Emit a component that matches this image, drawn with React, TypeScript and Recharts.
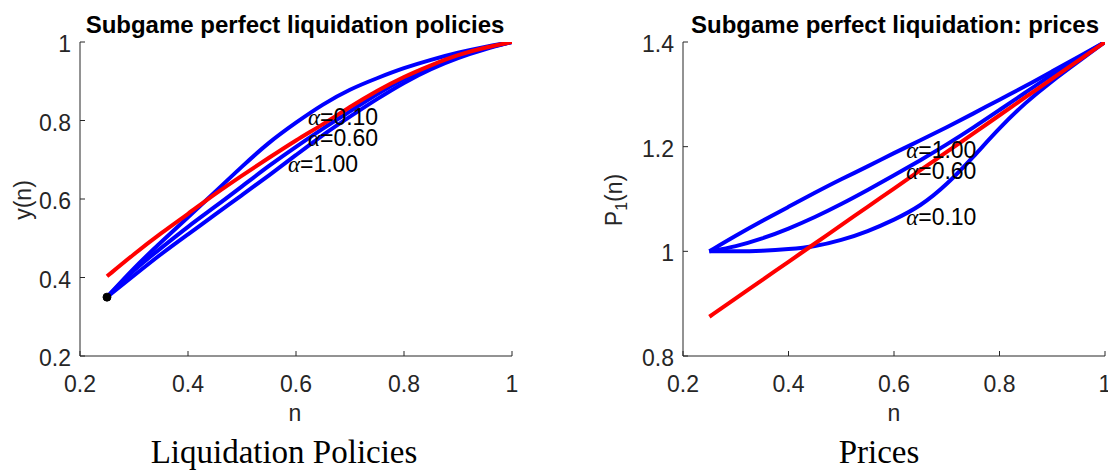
import React from 'react';
import { LineChart, Line, XAxis, YAxis, ReferenceDot } from 'recharts';

// grid of n values
const N_VALUES = [0.25, 0.3, 0.35, 0.4, 0.45, 0.5, 0.55, 0.6, 0.65, 0.7, 0.75, 0.8, 0.85, 0.9, 0.95, 1];

// left panel: liquidation policies y(n)
const Y_ALPHA_010 = [0.35, 0.425, 0.49, 0.553, 0.618, 0.683, 0.745, 0.795, 0.842, 0.88, 0.908, 0.934, 0.955, 0.973, 0.988, 1];
const Y_ALPHA_060 = [0.35, 0.42, 0.475, 0.53, 0.58, 0.632, 0.685, 0.733, 0.78, 0.823, 0.868, 0.907, 0.94, 0.965, 0.985, 1];
const Y_ALPHA_100 = [0.35, 0.405, 0.46, 0.51, 0.56, 0.61, 0.66, 0.712, 0.764, 0.81, 0.855, 0.897, 0.932, 0.96, 0.982, 1];
const Y_RED = [0.403, 0.46, 0.513, 0.562, 0.613, 0.66, 0.705, 0.75, 0.79, 0.835, 0.876, 0.912, 0.941, 0.968, 0.986, 1];

// right panel: prices P1(n)
const P_ALPHA_100 = [1.0, 1.03, 1.058, 1.085, 1.112, 1.138, 1.162, 1.188, 1.212, 1.237, 1.263, 1.29, 1.316, 1.344, 1.372, 1.4];
const P_ALPHA_060 = [1.0, 1.009, 1.024, 1.043, 1.065, 1.09, 1.117, 1.145, 1.174, 1.204, 1.236, 1.27, 1.304, 1.338, 1.37, 1.4];
const P_ALPHA_010 = [1.0, 1.0, 1.001, 1.004, 1.009, 1.021, 1.038, 1.06, 1.086, 1.127, 1.18, 1.236, 1.285, 1.326, 1.363, 1.4];
const P_RED = [0.875, 0.91, 0.945, 0.98, 1.015, 1.05, 1.085, 1.12, 1.155, 1.19, 1.225, 1.26, 1.295, 1.33, 1.365, 1.4];

const X_TICKS = [0.2, 0.4, 0.6, 0.8, 1];
const Y_TICKS_LEFT = [0.2, 0.4, 0.6, 0.8, 1];
const Y_TICKS_RIGHT = [0.8, 1, 1.2, 1.4];

const LEFT_LABELS = [
  { n: 0.622, v: 0.808, text: '=0.10' },
  { n: 0.622, v: 0.755, text: '=0.60' },
  { n: 0.585, v: 0.689, text: '=1.00' },
];
const RIGHT_LABELS = [
  { n: 0.623, v: 1.194, text: '=1.00' },
  { n: 0.623, v: 1.154, text: '=0.60' },
  { n: 0.623, v: 1.066, text: '=0.10' },
];

const leftData = N_VALUES.map((n, i) => ({
  n, a010: Y_ALPHA_010[i], a060: Y_ALPHA_060[i], a100: Y_ALPHA_100[i], red: Y_RED[i],
}));
const rightData = N_VALUES.map((n, i) => ({
  n, a100: P_ALPHA_100[i], a060: P_ALPHA_060[i], a010: P_ALPHA_010[i], red: P_RED[i],
}));

const AXIS = '#262626';
const SANS = '"Liberation Sans", Arial, sans-serif';
const SERIF = '"Liberation Serif", "Times New Roman", serif';
const TICK_FONT = 23;

const fmt = (v: number) => (Math.abs(v - Math.round(v)) < 1e-9 ? String(Math.round(v)) : v.toFixed(1));

const XTick = (props: any) => {
  const { x, y, payload } = props;
  return (
    <g>
      <line x1={x} y1={y} x2={x} y2={y - 5} stroke={AXIS} strokeWidth={1} />
      <text x={x} y={y + 28} textAnchor="middle" dominantBaseline="central" fontSize={TICK_FONT} fontFamily={SANS} fill={AXIS}>
        {fmt(payload.value)}
      </text>
    </g>
  );
};

const YTick = (props: any) => {
  const { x, y, payload } = props;
  return (
    <g>
      <line x1={x} y1={y} x2={x + 5} y2={y} stroke={AXIS} strokeWidth={1} />
      <text x={x - 9} y={y + 2} textAnchor="end" dominantBaseline="central" fontSize={TICK_FONT} fontFamily={SANS} fill={AXIS}>
        {fmt(payload.value)}
      </text>
    </g>
  );
};

const alphaLabel = (text: string) => (props: any) => {
  const vb = props.viewBox || {};
  const x = vb.x + (vb.width || 0) / 2;
  const y = vb.y + (vb.height || 0) / 2;
  return (
    <text x={x} y={y} dominantBaseline="central" fontSize={23} fontFamily={SANS} fill="#000">
      <tspan fontFamily={SERIF} fontStyle="italic">α</tspan>
      {text}
    </text>
  );
};

const Abs = ({ x, y, style, children }: any) => (
  <div style={{ position: 'absolute', left: x, top: y, transform: 'translate(-50%, -50%)', whiteSpace: 'nowrap', lineHeight: 1, ...style }}>
    {children}
  </div>
);

const titleStyle = { fontFamily: SANS, fontWeight: 700, fontSize: 24, color: '#000' };
const labelStyle = { fontFamily: SANS, fontSize: 23, color: AXIS };
const captionStyle = { fontFamily: SERIF, fontSize: 33, color: '#000' };

const lineProps = { type: 'basis' as const, dot: false, isAnimationActive: false, strokeWidth: 4 };

export default function App() {
  return (
    <div style={{ position: 'absolute', left: 0, top: 0, width: 1108, height: 470, background: '#fff', overflow: 'hidden' }}>
      <div style={{ position: 'absolute', left: 0, top: 0 }}>
        <LineChart width={560} height={470} data={leftData} margin={{ top: 42, right: 48, bottom: 113, left: 79 }}>
          <XAxis dataKey="n" type="number" domain={[0.2, 1]} ticks={X_TICKS} interval={0} height={1}
            tickSize={0} tickMargin={0} tickLine={false} tick={<XTick />} axisLine={{ stroke: AXIS }} allowDataOverflow />
          <YAxis type="number" domain={[0.2, 1]} ticks={Y_TICKS_LEFT} interval={0} width={1}
            tickSize={0} tickMargin={0} tickLine={false} tick={<YTick />} axisLine={{ stroke: AXIS }} allowDataOverflow />
          <Line {...lineProps} dataKey="a010" stroke="#0000ff" />
          <Line {...lineProps} dataKey="a060" stroke="#0000ff" />
          <Line {...lineProps} dataKey="a100" stroke="#0000ff" />
          <Line {...lineProps} dataKey="red" stroke="#ff0000" />
          <ReferenceDot x={0.25} y={0.35} r={4} fill="#000" stroke="#000" />
          {LEFT_LABELS.map((l) => (
            <ReferenceDot key={l.text} x={l.n} y={l.v} r={1} fill="none" stroke="none" label={alphaLabel(l.text)} />
          ))}
        </LineChart>
      </div>
      <div style={{ position: 'absolute', left: 560, top: 0 }}>
        <LineChart width={548} height={470} data={rightData} margin={{ top: 42, right: 3, bottom: 113, left: 122 }}>
          <XAxis dataKey="n" type="number" domain={[0.2, 1]} ticks={X_TICKS} interval={0} height={1}
            tickSize={0} tickMargin={0} tickLine={false} tick={<XTick />} axisLine={{ stroke: AXIS }} allowDataOverflow />
          <YAxis type="number" domain={[0.8, 1.4]} ticks={Y_TICKS_RIGHT} interval={0} width={1}
            tickSize={0} tickMargin={0} tickLine={false} tick={<YTick />} axisLine={{ stroke: AXIS }} allowDataOverflow />
          <Line {...lineProps} dataKey="a100" stroke="#0000ff" />
          <Line {...lineProps} dataKey="a060" stroke="#0000ff" />
          <Line {...lineProps} dataKey="a010" stroke="#0000ff" />
          <Line {...lineProps} dataKey="red" stroke="#ff0000" />
          {RIGHT_LABELS.map((l) => (
            <ReferenceDot key={l.text} x={l.n} y={l.v} r={1} fill="none" stroke="none" label={alphaLabel(l.text)} />
          ))}
        </LineChart>
      </div>

      <Abs x={295} y={25} style={titleStyle}>Subgame perfect liquidation policies</Abs>
      <Abs x={895} y={25} style={titleStyle}>Subgame perfect liquidation: prices</Abs>

      <Abs x={295} y={413} style={labelStyle}>n</Abs>
      <Abs x={894} y={413} style={labelStyle}>n</Abs>
      <Abs x={23} y={200} style={{ ...labelStyle, transform: 'translate(-50%, -50%) rotate(-90deg)' }}>y(n)</Abs>
      <Abs x={616} y={200} style={{ ...labelStyle, transform: 'translate(-50%, -50%) rotate(-90deg)' }}>
        P<sub style={{ fontSize: 16, verticalAlign: -5 }}>1</sub>(n)
      </Abs>

      <Abs x={284} y={452} style={captionStyle}>Liquidation Policies</Abs>
      <Abs x={879} y={452} style={captionStyle}>Prices</Abs>
    </div>
  );
}
